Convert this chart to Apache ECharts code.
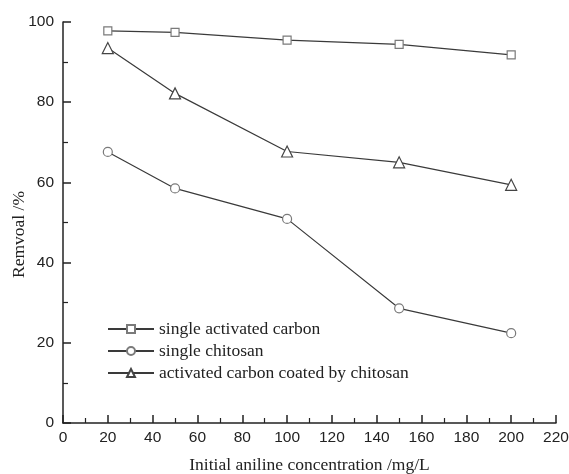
<!DOCTYPE html>
<html><head><meta charset="utf-8">
<script src="https://cdn.jsdelivr.net/npm/echarts@6/dist/echarts.min.js"></script>
<style>html,body{margin:0;padding:0;background:#fff}#c{width:569px;height:474px}</style>
</head><body><div id="c"></div>
<script>
const concentrations = [20, 50, 100, 150, 200];
const activatedCarbon = [97.8, 97.4, 95.5, 94.4, 91.8];
const chitosan = [67.6, 58.5, 50.9, 28.6, 22.4];
const coated = [93.5, 82.2, 67.7, 65.0, 59.4];
const seriesNames = ['single activated carbon', 'single chitosan', 'activated carbon coated by chitosan'];

function pairs(vals){ return concentrations.map((x,i)=>[x, vals[i]]); }
const tri = 'path://M0,10 L5,0 L10,10 Z';
function mk(name, vals, symbol, size, border){
  return {
    name, type:'line', data:pairs(vals), symbol, symbolSize:size, showSymbol:true,
    lineStyle:{color:'#3a3a3a', width:1.2},
    itemStyle:{color:'#fff', borderColor:border, borderWidth:1.2},
    emphasis:{disabled:true}
  };
}
const chart = echarts.init(document.getElementById('c'));
const axisCommon = {
  axisLine:{show:true, lineStyle:{color:'#222', width:1.5}},
  axisTick:{show:true, inside:true, length:8, lineStyle:{color:'#222', width:1.5}},
  minorTick:{show:true, splitNumber:2, length:5, lineStyle:{color:'#222', width:1.2}},
  splitLine:{show:false},
  axisLabel:{fontFamily:'Liberation Sans', fontSize:15.5, color:'#222'},
  nameTextStyle:{fontFamily:'Liberation Serif', fontSize:17.5, color:'#222'}
};
chart.setOption({
  backgroundColor:'#fff',
  animation:false,
  grid:{left:63, right:13, top:22, bottom:51, containLabel:false, outerBoundsMode:'none'},
  legend:{
    orient:'vertical', left:102, top:315, itemWidth:46, itemHeight:10, itemGap:4,
    textStyle:{fontFamily:'Liberation Serif', fontSize:17.5, color:'#222'},
    data:seriesNames
  },
  xAxis:Object.assign({}, axisCommon, {
    type:'value', min:0, max:220, interval:20,
    name:'Initial aniline concentration /mg/L', nameLocation:'middle', nameGap:33, nameMoveOverlap:false,
    axisLabel:Object.assign({}, axisCommon.axisLabel, {margin:7})
  }),
  yAxis:Object.assign({}, axisCommon, {
    type:'value', min:0, max:100, interval:20,
    name:'Remvoal /%', nameLocation:'middle', nameGap:35, nameMoveOverlap:false,
    nameTextStyle:Object.assign({}, axisCommon.nameTextStyle, {padding:[0,24,0,0]}),
    axisLabel:Object.assign({}, axisCommon.axisLabel, {margin:9})
  }),
  series:[
    mk(seriesNames[0], activatedCarbon, 'rect', 8, '#7a7a7a'),
    mk(seriesNames[1], chitosan, 'circle', 9, '#7a7a7a'),
    mk(seriesNames[2], coated, tri, 11, '#444')
  ]
});
</script></body></html>
